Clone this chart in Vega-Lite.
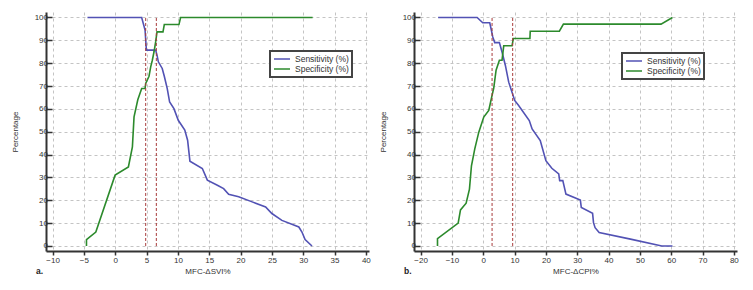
{
  "$schema": "https://vega.github.io/schema/vega-lite/v6.json",
  "background": "white",
  "padding": {"left": 11, "top": 12, "right": 5, "bottom": 5},
  "config": {
    "font": "Liberation Sans",
    "view": {"stroke": null},
    "axis": {
      "labelFont": "Liberation Sans", "labelFontSize": 8, "labelColor": "#333",
      "titleFont": "Liberation Sans", "titleFontSize": 8, "titleColor": "#333", "titleFontWeight": "normal",
      "domainColor": "#333", "domainWidth": 2, "tickColor": "#333", "tickWidth": 1.5, "tickSize": 4,
      "gridColor": "#c4c4c4", "gridDash": [3, 3], "gridWidth": 1, "labelPadding": 1, "labelOverlap": false
    },
    "axisY": {"tickSize": -6, "labelPadding": 4.5, "titlePadding": 14.5},
    "axisX": {"titlePadding": 3},
    "legend": {
      "labelFont": "Liberation Sans", "labelFontSize": 8.5, "labelColor": "#333",
      "strokeColor": "#444", "strokeWidth": 2, "fillColor": "white", "padding": 3,
      "rowPadding": 0, "clipHeight": 10, "symbolType": "stroke", "symbolSize": 256, "symbolStrokeWidth": 1.5,
      "labelOffset": 4, "title": null
    },
    "title": {"font": "Liberation Sans", "fontSize": 8.5, "fontWeight": "bold", "color": "#222"}
  },
  "datasets": {
    "svi": [
      {"series": "Sensitivity (%)", "i": 1, "x": -4.43, "y": 100},
      {"series": "Sensitivity (%)", "i": 2, "x": 4.22, "y": 100},
      {"series": "Sensitivity (%)", "i": 3, "x": 4.76, "y": 94.5},
      {"series": "Sensitivity (%)", "i": 4, "x": 4.97, "y": 85.7},
      {"series": "Sensitivity (%)", "i": 5, "x": 6.45, "y": 85.7},
      {"series": "Sensitivity (%)", "i": 6, "x": 6.67, "y": 83.5},
      {"series": "Sensitivity (%)", "i": 7, "x": 6.88, "y": 80.6},
      {"series": "Sensitivity (%)", "i": 8, "x": 7.5, "y": 77.7},
      {"series": "Sensitivity (%)", "i": 9, "x": 7.83, "y": 74.3},
      {"series": "Sensitivity (%)", "i": 10, "x": 8.3, "y": 68.9},
      {"series": "Sensitivity (%)", "i": 11, "x": 8.68, "y": 63},
      {"series": "Sensitivity (%)", "i": 12, "x": 9.37, "y": 60.1},
      {"series": "Sensitivity (%)", "i": 13, "x": 10.06, "y": 55},
      {"series": "Sensitivity (%)", "i": 14, "x": 10.4, "y": 53.6},
      {"series": "Sensitivity (%)", "i": 15, "x": 11.1, "y": 50.7},
      {"series": "Sensitivity (%)", "i": 16, "x": 11.55, "y": 46.3},
      {"series": "Sensitivity (%)", "i": 17, "x": 11.92, "y": 37.1},
      {"series": "Sensitivity (%)", "i": 18, "x": 13.9, "y": 33.9},
      {"series": "Sensitivity (%)", "i": 19, "x": 14.7, "y": 28.8},
      {"series": "Sensitivity (%)", "i": 20, "x": 16.3, "y": 26.6},
      {"series": "Sensitivity (%)", "i": 21, "x": 17.3, "y": 25.1},
      {"series": "Sensitivity (%)", "i": 22, "x": 18.1, "y": 22.6},
      {"series": "Sensitivity (%)", "i": 23, "x": 19.7, "y": 21.5},
      {"series": "Sensitivity (%)", "i": 24, "x": 21.85, "y": 19.3},
      {"series": "Sensitivity (%)", "i": 25, "x": 24, "y": 17.1},
      {"series": "Sensitivity (%)", "i": 26, "x": 25, "y": 14.2},
      {"series": "Sensitivity (%)", "i": 27, "x": 26.6, "y": 11.2},
      {"series": "Sensitivity (%)", "i": 28, "x": 29.3, "y": 8.3},
      {"series": "Sensitivity (%)", "i": 29, "x": 29.8, "y": 6.1},
      {"series": "Sensitivity (%)", "i": 30, "x": 30.3, "y": 2.8},
      {"series": "Sensitivity (%)", "i": 31, "x": 31.4, "y": 0},
      {"series": "Specificity (%)", "i": 1, "x": -4.59, "y": 0},
      {"series": "Specificity (%)", "i": 2, "x": -4.59, "y": 2.8},
      {"series": "Specificity (%)", "i": 3, "x": -3.1, "y": 6.1},
      {"series": "Specificity (%)", "i": 4, "x": -0.02, "y": 31},
      {"series": "Specificity (%)", "i": 5, "x": 2.1, "y": 34.6},
      {"series": "Specificity (%)", "i": 6, "x": 2.74, "y": 43.4},
      {"series": "Specificity (%)", "i": 7, "x": 3.0, "y": 56.5},
      {"series": "Specificity (%)", "i": 8, "x": 3.6, "y": 64},
      {"series": "Specificity (%)", "i": 9, "x": 4.22, "y": 68.9},
      {"series": "Specificity (%)", "i": 10, "x": 4.76, "y": 68.9},
      {"series": "Specificity (%)", "i": 11, "x": 4.86, "y": 71.1},
      {"series": "Specificity (%)", "i": 12, "x": 5.39, "y": 74.3},
      {"series": "Specificity (%)", "i": 13, "x": 5.66, "y": 78.4},
      {"series": "Specificity (%)", "i": 14, "x": 5.92, "y": 81.3},
      {"series": "Specificity (%)", "i": 15, "x": 6.19, "y": 85},
      {"series": "Specificity (%)", "i": 16, "x": 6.45, "y": 89.3},
      {"series": "Specificity (%)", "i": 17, "x": 6.67, "y": 93.7},
      {"series": "Specificity (%)", "i": 18, "x": 7.62, "y": 93.7},
      {"series": "Specificity (%)", "i": 19, "x": 7.83, "y": 96.9},
      {"series": "Specificity (%)", "i": 20, "x": 10.17, "y": 96.9},
      {"series": "Specificity (%)", "i": 21, "x": 10.43, "y": 100},
      {"series": "Specificity (%)", "i": 22, "x": 31.5, "y": 100}
    ],
    "cpi": [
      {"series": "Sensitivity (%)", "i": 1, "x": -14.4, "y": 100},
      {"series": "Sensitivity (%)", "i": 2, "x": -1.95, "y": 100},
      {"series": "Sensitivity (%)", "i": 3, "x": -0.15, "y": 97.7},
      {"series": "Sensitivity (%)", "i": 4, "x": 2.08, "y": 97.7},
      {"series": "Sensitivity (%)", "i": 5, "x": 2.6, "y": 94.4},
      {"series": "Sensitivity (%)", "i": 6, "x": 3.04, "y": 91.5},
      {"series": "Sensitivity (%)", "i": 7, "x": 3.67, "y": 89},
      {"series": "Sensitivity (%)", "i": 8, "x": 5.16, "y": 89},
      {"series": "Sensitivity (%)", "i": 9, "x": 6.0, "y": 84.9},
      {"series": "Sensitivity (%)", "i": 10, "x": 7.07, "y": 79},
      {"series": "Sensitivity (%)", "i": 11, "x": 8.13, "y": 71.7},
      {"series": "Sensitivity (%)", "i": 12, "x": 9.19, "y": 67.3},
      {"series": "Sensitivity (%)", "i": 13, "x": 10.04, "y": 63.7},
      {"series": "Sensitivity (%)", "i": 14, "x": 11.3, "y": 61.5},
      {"series": "Sensitivity (%)", "i": 15, "x": 14.7, "y": 54.9},
      {"series": "Sensitivity (%)", "i": 16, "x": 15.6, "y": 51.2},
      {"series": "Sensitivity (%)", "i": 17, "x": 18.2, "y": 46.1},
      {"series": "Sensitivity (%)", "i": 18, "x": 20.0, "y": 37.3},
      {"series": "Sensitivity (%)", "i": 19, "x": 21.9, "y": 34},
      {"series": "Sensitivity (%)", "i": 20, "x": 24.1, "y": 31.5},
      {"series": "Sensitivity (%)", "i": 21, "x": 24.4, "y": 28.6},
      {"series": "Sensitivity (%)", "i": 22, "x": 25.4, "y": 28.6},
      {"series": "Sensitivity (%)", "i": 23, "x": 26.4, "y": 22.7},
      {"series": "Sensitivity (%)", "i": 24, "x": 31.0, "y": 20.1},
      {"series": "Sensitivity (%)", "i": 25, "x": 31.3, "y": 16.8},
      {"series": "Sensitivity (%)", "i": 26, "x": 34.9, "y": 14.3},
      {"series": "Sensitivity (%)", "i": 27, "x": 35.2, "y": 10.2},
      {"series": "Sensitivity (%)", "i": 28, "x": 35.7, "y": 8},
      {"series": "Sensitivity (%)", "i": 29, "x": 37.0, "y": 5.9},
      {"series": "Sensitivity (%)", "i": 30, "x": 47.0, "y": 3},
      {"series": "Sensitivity (%)", "i": 31, "x": 57.0, "y": 0},
      {"series": "Sensitivity (%)", "i": 32, "x": 60.4, "y": 0},
      {"series": "Specificity (%)", "i": 1, "x": -14.6, "y": 0},
      {"series": "Specificity (%)", "i": 2, "x": -14.6, "y": 3.2},
      {"series": "Specificity (%)", "i": 3, "x": -8.0, "y": 10},
      {"series": "Specificity (%)", "i": 4, "x": -7.26, "y": 15.8},
      {"series": "Specificity (%)", "i": 5, "x": -5.46, "y": 18.7},
      {"series": "Specificity (%)", "i": 6, "x": -4.4, "y": 24.9},
      {"series": "Specificity (%)", "i": 7, "x": -3.76, "y": 35.1},
      {"series": "Specificity (%)", "i": 8, "x": -2.7, "y": 42.5},
      {"series": "Specificity (%)", "i": 9, "x": -1.42, "y": 49.8},
      {"series": "Specificity (%)", "i": 10, "x": 0.17, "y": 56.4},
      {"series": "Specificity (%)", "i": 11, "x": 1.76, "y": 59.3},
      {"series": "Specificity (%)", "i": 12, "x": 2.3, "y": 62.7},
      {"series": "Specificity (%)", "i": 13, "x": 2.82, "y": 65.9},
      {"series": "Specificity (%)", "i": 14, "x": 3.35, "y": 69.1},
      {"series": "Specificity (%)", "i": 15, "x": 4.1, "y": 76.9},
      {"series": "Specificity (%)", "i": 16, "x": 5.16, "y": 81.3},
      {"series": "Specificity (%)", "i": 17, "x": 6.0, "y": 81.3},
      {"series": "Specificity (%)", "i": 18, "x": 6.54, "y": 87.6},
      {"series": "Specificity (%)", "i": 19, "x": 9.19, "y": 87.6},
      {"series": "Specificity (%)", "i": 20, "x": 9.6, "y": 90.8},
      {"series": "Specificity (%)", "i": 21, "x": 14.9, "y": 90.8},
      {"series": "Specificity (%)", "i": 22, "x": 15.0, "y": 94.0},
      {"series": "Specificity (%)", "i": 23, "x": 24.3, "y": 94.0},
      {"series": "Specificity (%)", "i": 24, "x": 25.6, "y": 97.1},
      {"series": "Specificity (%)", "i": 25, "x": 56.75, "y": 97.1},
      {"series": "Specificity (%)", "i": 26, "x": 60.4, "y": 100}
    ],
    "svi_cut": [{"x": 4.86}, {"x": 6.56}],
    "cpi_cut": [{"x": 2.82}, {"x": 9.4}]
  },
  "spacing": 45,
  "bounds": "flush",
  "resolve": {"legend": {"color": "independent"}},
  "hconcat": [
    {
      "width": 323,
      "height": 239,
      "title": {"text": "a.", "orient": "bottom", "anchor": "start", "frame": "group", "dx": -10, "dy": -8, "offset": 0},
      "layer": [
        {
          "data": {"name": "svi"},
          "mark": {"type": "line", "strokeWidth": 1.6},
          "encoding": {
            "x": {"field": "x", "type": "quantitative", "title": "MFC-ΔSVI%",
                  "scale": {"domain": [-11.05, 40.5], "nice": false, "zero": false},
                  "axis": {"values": [-10, -5, 0, 5, 10, 15, 20, 25, 30, 35, 40]}},
            "y": {"field": "y", "type": "quantitative", "title": "Percentage",
                  "scale": {"domain": [-2.2, 102.4], "nice": false, "zero": false},
                  "axis": {"values": [0, 10, 20, 30, 40, 50, 60, 70, 80, 90, 100]}},
            "color": {"field": "series", "type": "nominal",
                      "scale": {"domain": ["Sensitivity (%)", "Specificity (%)"], "range": ["#5252b4", "#2c8a2c"]},
                      "legend": {"orient": "none", "legendX": 224, "legendY": 39}},
            "order": {"field": "i", "type": "quantitative"}
          }
        },
        {
          "data": {"name": "svi_cut"},
          "mark": {"type": "rule", "color": "#a83a3a", "strokeDash": [3, 2], "strokeWidth": 1},
          "encoding": {
            "x": {"field": "x", "type": "quantitative", "title": "MFC-ΔSVI%",
                  "axis": {"values": [-10, -5, 0, 5, 10, 15, 20, 25, 30, 35, 40]}},
            "y": {"datum": 0, "type": "quantitative", "title": "Percentage",
                  "axis": {"values": [0, 10, 20, 30, 40, 50, 60, 70, 80, 90, 100]}},
            "y2": {"datum": 100}
          }
        }
      ]
    },
    {
      "width": 323,
      "height": 239,
      "title": {"text": "b.", "orient": "bottom", "anchor": "start", "frame": "group", "dx": -10, "dy": -8, "offset": 0},
      "layer": [
        {
          "data": {"name": "cpi"},
          "mark": {"type": "line", "strokeWidth": 1.6},
          "encoding": {
            "x": {"field": "x", "type": "quantitative", "title": "MFC-ΔCPI%",
                  "scale": {"domain": [-22.1, 81], "nice": false, "zero": false},
                  "axis": {"values": [-20, -10, 0, 10, 20, 30, 40, 50, 60, 70, 80]}},
            "y": {"field": "y", "type": "quantitative", "title": "Percentage",
                  "scale": {"domain": [-2.2, 102.4], "nice": false, "zero": false},
                  "axis": {"values": [0, 10, 20, 30, 40, 50, 60, 70, 80, 90, 100]}},
            "color": {"field": "series", "type": "nominal",
                      "scale": {"domain": ["Sensitivity (%)", "Specificity (%)"], "range": ["#5252b4", "#2c8a2c"]},
                      "legend": {"orient": "none", "legendX": 208, "legendY": 41}},
            "order": {"field": "i", "type": "quantitative"}
          }
        },
        {
          "data": {"name": "cpi_cut"},
          "mark": {"type": "rule", "color": "#a83a3a", "strokeDash": [3, 2], "strokeWidth": 1},
          "encoding": {
            "x": {"field": "x", "type": "quantitative", "title": "MFC-ΔCPI%",
                  "axis": {"values": [-20, -10, 0, 10, 20, 30, 40, 50, 60, 70, 80]}},
            "y": {"datum": 0, "type": "quantitative", "title": "Percentage",
                  "axis": {"values": [0, 10, 20, 30, 40, 50, 60, 70, 80, 90, 100]}},
            "y2": {"datum": 100}
          }
        }
      ]
    }
  ]
}
